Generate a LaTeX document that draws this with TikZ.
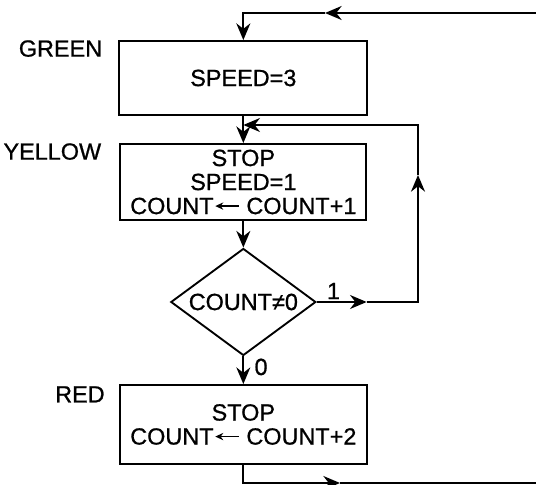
\documentclass[tikz,border=0pt]{standalone}
\usepackage{fontspec}
\setmainfont{Liberation Sans}
\newfontfamily\flowfont[FakeBold=0.8]{Liberation Sans}
\usetikzlibrary{arrows.meta,shapes.geometric}
\newcommand{\getsarrow}{\tikz[baseline=-0.24cm]\draw[line width=1pt, {Stealth[length=2.4mm, width=2.2mm]}-] (0,0) -- (0.72,0);}
\begin{document}
\begin{tikzpicture}[
    flow/.style={line width=1.6pt, -{Stealth[length=5mm, width=4.2mm]}},
    plain/.style={line width=1.6pt},
    statebox/.style={draw, line width=1.6pt, align=center, inner sep=0pt, font=\flowfont\fontsize{20}{20.5}\selectfont},
    sidelbl/.style={inner sep=0pt, font=\flowfont\fontsize{20}{20.5}\selectfont}]
  \useasboundingbox (0,0) rectangle (16.08,14.55);
  \node[statebox, minimum width=7.44cm, minimum height=2.22cm] (green) at (7.3,12.21) {SPEED=3};
  \node[statebox, minimum width=7.38cm, minimum height=2.28cm] (yellow) at (7.3,9.09) {STOP\\SPEED=1\\COUNT\hspace{1pt}\getsarrow\ COUNT+1};
  \node[statebox, diamond, aspect=1.36, minimum width=4.35cm, minimum height=3.21cm] (test) at (7.3,5.49) {COUNT≠0};
  \node[statebox, minimum width=7.41cm, minimum height=2.37cm] (red) at (7.3,1.815) {STOP\\COUNT\hspace{1pt}\getsarrow\ COUNT+2};
  \node[sidelbl, anchor=north east] (glbl) at ([xshift=-0.48cm]green.north west) {GREEN};
  \node[sidelbl, anchor=north east] (ylbl) at ([xshift=-0.54cm]yellow.north west) {YELLOW};
  \node[sidelbl, anchor=north east] (rlbl) at ([xshift=-0.42cm, yshift=-0.06cm]red.north west) {RED};
  \node[sidelbl, anchor=south west] (onelbl) at ([xshift=0.3cm, yshift=0.08cm]test.east) {1};
  \node[sidelbl, anchor=north west] (zerolbl) at ([xshift=0.33cm, yshift=-0.06cm]test.south) {0};
  \coordinate (topR) at (16.08,14.16);
  \coordinate (topM) at (9.75,14.16);
  \coordinate (botM) at (10.2,0.06);
  \coordinate (botR) at (16.08,0.06);
  \coordinate (loopM) at (11.0,5.49);
  \coordinate (loopUp) at (12.54,9.3);
  \coordinate (loopJoin) at (7.3,10.8);
  \draw[flow] (topR) -- (topM);
  \draw[flow] (topM) -| (green.north);
  \draw[flow] (green.south) -- (yellow.north);
  \draw[flow] (yellow.south) -- (test.north);
  \draw[flow] (test.east) -- (loopM);
  \draw[flow] (loopM) -| (loopUp);
  \draw[flow] (loopUp) |- (loopJoin);
  \draw[flow] (test.south) -- (red.north);
  \draw[flow] (red.south) |- (botM);
  \draw[plain] (botM) -- (botR);
\end{tikzpicture}
\end{document}
